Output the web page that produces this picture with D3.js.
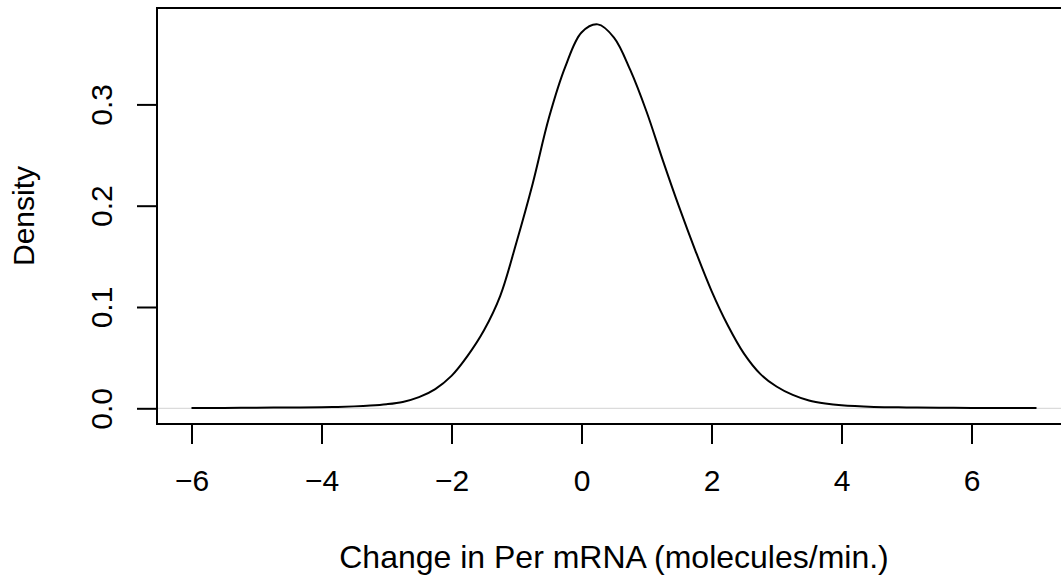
<!DOCTYPE html>
<html>
<head>
<meta charset="utf-8">
<script src="https://cdn.jsdelivr.net/npm/d3@7"></script>
<style>
  body { margin: 0; background: #fff; }
  text { font-family: 'Liberation Sans', Arial, Helvetica, sans-serif; fill: #000; }
</style>
</head>
<body>
<div id="chart"></div>
<script>
'use strict'

// density estimate
const xValues = [-6, -5.5, -5, -4.5, -4, -3.75, -3.5, -3.25, -3, -2.75, -2.5, -2.25, -2, -1.75, -1.5, -1.25,
  -1, -0.75, -0.5, -0.25, 0, 0.25, 0.5, 0.75, 1, 1.25, 1.5, 1.75, 2, 2.25, 2.5, 2.75, 3, 3.25, 3.5, 3.75,
  4, 4.5, 5, 5.5, 6, 6.5, 7]
const densityValues = [0.0003, 0.0004, 0.0006, 0.0008, 0.0011, 0.0014, 0.0019, 0.0027, 0.0040, 0.0063, 0.0110, 0.0190, 0.0320, 0.052, 0.077, 0.111,
  0.164, 0.222, 0.287, 0.337, 0.371, 0.379, 0.366, 0.334, 0.293, 0.245, 0.199, 0.156, 0.116, 0.082, 0.054, 0.034, 0.0215, 0.0132, 0.0077, 0.0047,
  0.0029, 0.0014, 0.0009, 0.0006, 0.0004, 0.0003, 0.0002]
const xTicks = [-6, -4, -2, 0, 2, 4, 6]
const yTicks = [0, 0.1, 0.2, 0.3]
const xTitle = 'Change in Per mRNA (molecules/min.)'
const yTitle = 'Density'

const width = 1061
const height = 578
const margin = { top: 8, left: 157, bottom: 424, right: 1075 }

const svg = d3.select('#chart')
  .append('svg')
  .attr('width', width)
  .attr('height', height)

const xScale = d3.scaleLinear()
  .domain([-6, 6])
  .range([191.5, 971.5])

const yScale = d3.scaleLinear()
  .domain([0, 0.3])
  .range([408.3, 104.4])

const data = xValues.map((x, i) => ({ x: x, y: densityValues[i] }))

// zero line
svg.append('line')
  .attr('x1', margin.left)
  .attr('x2', margin.right)
  .attr('y1', yScale(0))
  .attr('y2', yScale(0))
  .attr('stroke', '#d3d3d3')
  .attr('stroke-width', 1)

// density curve
svg.append('path')
  .datum(data)
  .attr('fill', 'none')
  .attr('stroke', '#000')
  .attr('stroke-width', 2)
  .attr('d', d3.line()
    .x(d => xScale(d.x))
    .y(d => yScale(d.y))
    .curve(d3.curveCatmullRom.alpha(0.5)))

// box
svg.append('rect')
  .attr('x', margin.left)
  .attr('y', margin.top)
  .attr('width', margin.right - margin.left)
  .attr('height', margin.bottom - margin.top)
  .attr('fill', 'none')
  .attr('stroke', '#000')
  .attr('stroke-width', 2)

const xAxis = svg.append('g')
  .attr('transform', `translate(0, ${margin.bottom})`)
  .call(d3.axisBottom(xScale).tickValues(xTicks).tickSize(20))
xAxis.select('.domain').remove()
xAxis.selectAll('line').attr('stroke-width', 2)
xAxis.selectAll('text')
  .attr('y', 67)
  .attr('dy', null)
  .style('font-size', '30px')

const yAxis = svg.append('g')
  .attr('transform', `translate(${margin.left}, 0)`)
  .call(d3.axisLeft(yScale).tickValues(yTicks).tickSize(20).tickFormat(d3.format('.1f')))
yAxis.select('.domain').remove()
yAxis.selectAll('line').attr('stroke-width', 2)
yAxis.selectAll('text')
  .attr('x', null)
  .attr('dy', null)
  .attr('text-anchor', 'middle')
  .attr('transform', 'translate(-45, 0) rotate(-90)')
  .style('font-size', '30px')

svg.selectAll('.tick text').attr('font-family', null).attr('font-size', null)

// titles
svg.append('text')
  .attr('x', 614)
  .attr('y', 568)
  .attr('text-anchor', 'middle')
  .style('font-size', '32px')
  .text(xTitle)

svg.append('text')
  .attr('transform', `translate(34, 216) rotate(-90)`)
  .attr('text-anchor', 'middle')
  .style('font-size', '30px')
  .text(yTitle)
</script>
</body>
</html>
